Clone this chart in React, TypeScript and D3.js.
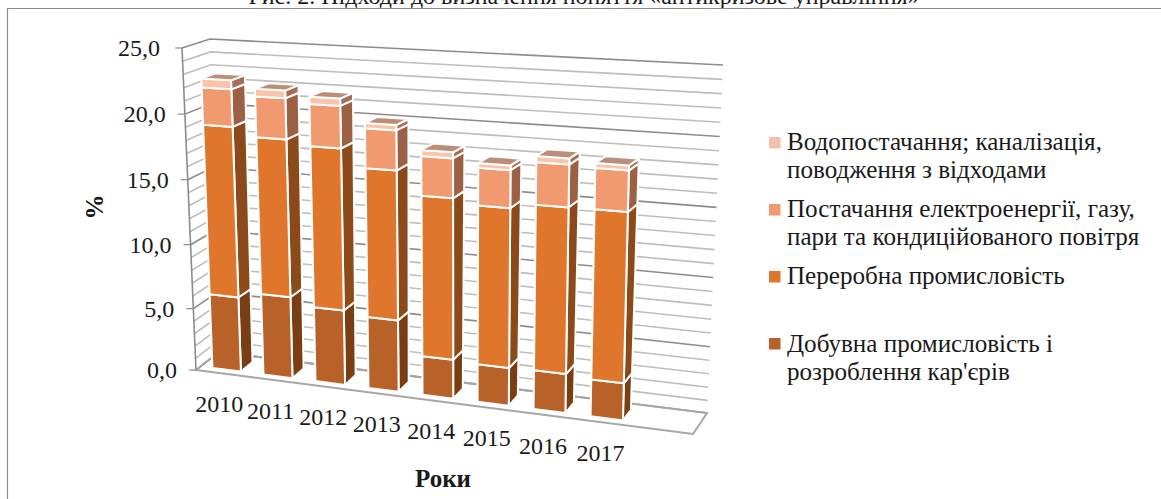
import React from "react";
import * as d3 from "d3";

const W = 1161, H = 499;
const years = ["2010", "2011", "2012", "2013", "2014", "2015", "2016", "2017"];
const mining = [5.98, 6.45, 5.87, 5.57, 3.06, 2.95, 3.0, 2.83];
const manufacturing = [13.1, 11.97, 12.18, 11.16, 11.97, 11.71, 12.06, 12.26];
const energy = [2.84, 3.08, 3.15, 2.94, 2.9, 2.73, 3.04, 2.9];
const water = [0.68, 0.58, 0.54, 0.39, 0.44, 0.34, 0.44, 0.35];
const valueTicks = [0, 5, 10, 15, 20, 25];
const gridValues = d3.range(0, 26);

const seriesColors = [
  { front: "#B8622A", side: "#7A3E14" },
  { front: "#E0762C", side: "#8C4A1A" },
  { front: "#F19A70", side: "#9C6044" },
  { front: "#F9C4AA", side: "#A86E55" },
];
const capColor = "#BE8D7A";

const legend = [
  { color: "#F5BFAE", y: 137, base: 150, lines: ["Водопостачання; каналізація,", "поводження з відходами"] },
  { color: "#F19A70", y: 204, base: 217, lines: ["Постачання електроенергії, газу,", "пари та кондиційованого повітря"] },
  { color: "#E0762C", y: 271, base: 284, lines: ["Переробна промисловість"] },
  { color: "#B8622A", y: 338, base: 352, lines: ["Добувна промисловість і", "розроблення кар'єрів"] },
];

// corners of the 3D box in the picture
const FLB: [number, number] = [196, 370];
const FRB: [number, number] = [693, 434];
const BLB: [number, number] = [219, 352];
const BRB: [number, number] = [707, 413];
const FLT: [number, number] = [182, 48];
const FRT: [number, number] = [704, 76];
const BLT: [number, number] = [210, 39];
const BRT: [number, number] = [723, 65];

// slight perspective foreshortening of the value axis
const vScale = d3.scalePow().exponent(1.03).domain([0, 25]).range([0, 1]);

function project(u: number, value: number, w: number): [number, number] {
  const v = vScale(value);
  const out: [number, number] = [0, 0];
  for (const k of [0, 1]) {
    const bottom = d3.interpolateNumber(
      d3.interpolateNumber(FLB[k], FRB[k])(u),
      d3.interpolateNumber(BLB[k], BRB[k])(u)
    )(w);
    const top = d3.interpolateNumber(
      d3.interpolateNumber(FLT[k], FRT[k])(u),
      d3.interpolateNumber(BLT[k], BRT[k])(u)
    )(w);
    out[k] = d3.interpolateNumber(bottom, top)(v);
  }
  return out;
}

const slot = (x: number) => 0.024 + 0.102 * x + 0.00101 * x * x;
const barFrontW = 0.2;
const barBackW = 0.72;
const barWidthSlots = 0.56;

const pathOf = (pts: [number, number][]) => d3.line()(pts)! + "Z";

const serif = "'Liberation Serif', 'Times New Roman', serif";
const ink = "#1a1a1a";

export default function App() {
  const stacks = d3.stack<number>().keys(["0", "1", "2", "3"]).value((i, k) => [mining, manufacturing, energy, water][+k][i])(
    years.map((_, i) => i)
  );
  const gridStroke = (v: number) => (v % 5 === 0 ? "#8C8C8C" : "#BDBDBD");
  return (
    <svg width={W} height={H} style={{ position: "absolute", left: 0, top: 0, background: "#fff" }} fontFamily={serif}>
      <text x={584} y={4} textAnchor="middle" fontSize={24} fill={ink}>
        Рис. 2. Підходи до визначення поняття «антикризове управління»
      </text>
      <path d={`M7.5,${H} V8.5 H${W}`} fill="none" stroke="#8A8A8A" strokeWidth={1.2} />

      {gridValues.map((v) => (
        <path
          key={v}
          d={d3.line()([project(0, v, 0), project(0, v, 1), project(1, v, 1)])!}
          fill="none"
          stroke={gridStroke(v)}
          strokeWidth={1.6}
        />
      ))}
      <path d={pathOf([project(0, 0, 0), project(1, 0, 0), project(1, 0, 1), project(0, 0, 1)])} fill="none" stroke="#A6A6A6" strokeWidth={2} />
      <path d={d3.line()([project(0, 0, 0), project(0, 25, 0)])!} fill="none" stroke="#8C8C8C" strokeWidth={1.6} />
      {valueTicks.map((v) => {
        const [x, y] = project(0, v, 0);
        return (
          <g key={v}>
            <line x1={x - 7} x2={x} y1={y} y2={y} stroke="#8C8C8C" strokeWidth={1.2} />
            <text x={x - 19 - (v === 25 ? 3 : 0)} y={y + 8} textAnchor="end" fontSize={24} fill={ink}>
              {v.toFixed(1).replace(".", ",")}
            </text>
          </g>
        );
      })}

      {years.map((year, i) => {
        const a = slot(i);
        const b = slot(i + barWidthSlots);
        const top = stacks[3][i][1];
        return (
          <g key={year}>
            {stacks.map((s, k) => {
              const [y0, y1] = s[i];
              return (
                <g key={k} stroke="#fff" strokeWidth={2} strokeLinejoin="round">
                  <path
                    fill={seriesColors[k].side}
                    d={pathOf([project(b, y0, barFrontW), project(b, y0, barBackW), project(b, y1, barBackW), project(b, y1, barFrontW)])}
                  />
                  <path
                    fill={seriesColors[k].front}
                    d={pathOf([project(a, y0, barFrontW), project(b, y0, barFrontW), project(b, y1, barFrontW), project(a, y1, barFrontW)])}
                  />
                </g>
              );
            })}
            <path
              fill={capColor}
              stroke="#fff"
              strokeWidth={2}
              strokeLinejoin="round"
              d={pathOf([project(a, top, barFrontW), project(b, top, barFrontW), project(b, top, barBackW), project(a, top, barBackW)])}
            />
            {(() => {
              const [x, y] = project((a + b) / 2, 0, 0);
              return (
                <text x={x - 3} y={y + 38.5} textAnchor="middle" fontSize={24} fill={ink}>
                  {year}
                </text>
              );
            })()}
          </g>
        );
      })}

      <text x={443} y={487} textAnchor="middle" fontSize={25} fontWeight="bold" fill={ink}>
        Роки
      </text>
      <text transform="translate(103,207) rotate(-90)" textAnchor="middle" fontSize={25} fontWeight="bold" fill={ink}>
        %
      </text>

      {legend.map((d) => (
        <g key={d.y}>
          <rect x={769} y={d.y} width={11.5} height={11.5} fill={d.color} />
          {d.lines.map((t, j) => (
            <text key={j} x={787} y={d.base + j * 27.5} fontSize={25.1} fill={ink}>
              {t}
            </text>
          ))}
        </g>
      ))}
    </svg>
  );
}
